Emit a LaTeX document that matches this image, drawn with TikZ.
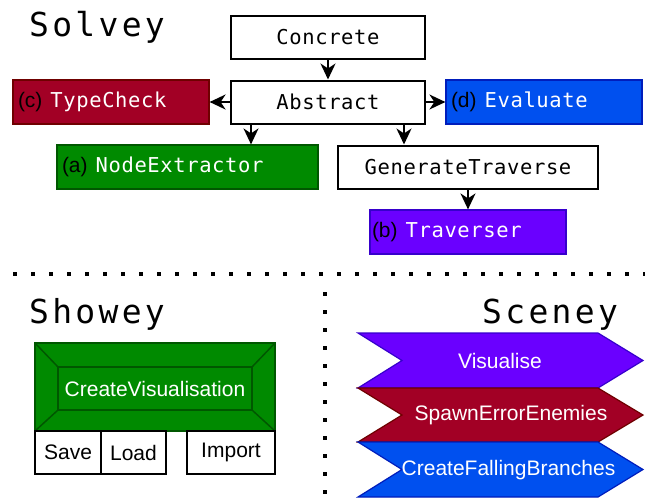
\documentclass[tikz,border=0pt]{standalone}
\usepackage{fontspec}
\setmainfont{Liberation Sans}
\newfontfamily\monof[LetterSpace=3]{DejaVu Sans Mono}
\newfontfamily\monot[LetterSpace=10]{DejaVu Sans Mono}
\usetikzlibrary{arrows.meta,calc}
\definecolor{cred}{HTML}{A20025}
\definecolor{credd}{HTML}{6F0000}
\definecolor{cblue}{HTML}{0050EF}
\definecolor{cblued}{HTML}{001DBC}
\definecolor{cgreen}{HTML}{008A00}
\definecolor{cgreend}{HTML}{005700}
\definecolor{cpurp}{HTML}{6A00FF}
\definecolor{cpurpd}{HTML}{3700CC}
\begin{document}
\begin{tikzpicture}[x=1pt,y=-1pt,
  monotext/.style={font=\monof\fontsize{20.5}{24}\selectfont},
  plainbox/.style={monotext,draw=black,line width=2pt,fill=white,minimum height=43pt,inner sep=0pt},
  labbox/.style={line width=1.2pt,fill=#1,minimum height=44pt,inner ysep=0pt,inner xsep=5pt,align=left},
  smallbox/.style={draw=black,line width=2pt,fill=white,minimum height=43pt,inner sep=0pt,font=\fontsize{21}{24}\selectfont},
  titletext/.style={font=\monot\fontsize{33}{40}\selectfont,anchor=base west,inner sep=0pt},
  arr/.style={line width=2pt,-{Stealth[length=16pt,width=15pt,inset=5pt]}},
  dotline/.style={line width=4pt,dash pattern=on 4pt off 14pt},
  scenetext/.style={text=white,font=\fontsize{21}{24}\selectfont,inner sep=0pt}
]
\useasboundingbox (0,0) rectangle (648,499);

\newcommand{\lab}[2]{{\fontsize{21}{24}\selectfont\color{black}#1}\hspace{8pt}{\monof\fontsize{20.5}{24}\selectfont\color{white}#2}}

% titles
\node[titletext] (solvey) at (29,36) {Solvey};
\node[titletext] (showey) at (29,323) {Showey};
\node[titletext] (sceney) at (482,323) {Sceney};

% Solvey
\node[plainbox,minimum width=194pt] (conc) at (328,37.5) {Concrete};
\node[plainbox,minimum width=194pt] (abs) at (328,102) {Abstract};
\node[labbox=cred,draw=credd,text width=186pt] (tc) at (111,102) {\lab{(c)}{TypeCheck}};
\node[labbox=cblue,draw=cblued,text width=186pt] (ev) at (544,102) {\lab{(d)}{Evaluate}};
\node[labbox=cgreen,draw=cgreend,text width=251pt] (ne) at (187.5,167) {\lab{(a)}{NodeExtractor}};
\node[plainbox,minimum width=260pt] (gt) at (468,167) {GenerateTraverse};
\node[labbox=cpurp,draw=cpurpd,inner xsep=2pt,text width=192pt] (tr) at (468,232) {\lab{(b)}{Traverser}};

\draw[arr] (conc) -- (abs);
\draw[arr] (abs.west) -- (tc.east);
\draw[arr] (abs.east) -- (ev.west);
\draw[arr] ([xshift=21pt]abs.south west) -- ([xshift=21pt]abs.south west |- ne.north);
\draw[arr] ([xshift=-22pt]abs.south east) -- ([xshift=-22pt]abs.south east |- gt.north);
\draw[arr] (gt.south) -- (tr.north);

% separators
\coordinate (h1) at (13,274);
\coordinate (h2) at (645,274);
\coordinate (v1) at (325,292);
\coordinate (v2) at (325,499);
\draw[dotline] (h1) -- (h2);
\draw[dotline] (v1) -- (v2);

% Showey
\draw[fill=cgreen,draw=cgreend,line width=1.5pt] (35,343) rectangle (275,431);
\draw[draw=cgreend,line width=1.5pt] (58,367) rectangle (252,410);
\draw[draw=cgreend,line width=1.5pt] (35,343) -- (58,367) (275,343) -- (252,367) (35,431) -- (58,410) (275,431) -- (252,410);
\node[text=white,font=\fontsize{21}{24}\selectfont,inner sep=0pt] (cv) at (155,388.5) {CreateVisualisation};
\node[smallbox,minimum width=66pt] (save) at (68,452.5) {Save};
\node[smallbox,minimum width=65pt] (load) at (133.5,452.5) {Load};
\node[smallbox,minimum width=88pt] (imp) at (231,452.5) {Import};

% Sceney
\draw[fill=cpurp,draw=cpurpd,line width=1.2pt] (358,333) -- (598,333) -- (643,360.5) -- (598,388) -- (358,388) -- (402,360.5) -- cycle;
\draw[fill=cred,draw=credd,line width=1.2pt] (358,388) -- (598,388) -- (643,415) -- (598,442) -- (358,442) -- (402,415) -- cycle;
\draw[fill=cblue,draw=cblued,line width=1.2pt] (358,442) -- (598,442) -- (643,469.5) -- (598,497) -- (358,497) -- (402,469.5) -- cycle;
\node[scenetext] (vis) at (500,361) {Visualise};
\node[scenetext] (spawn) at (511,415.5) {SpawnErrorEnemies};
\node[scenetext] (cfb) at (508.5,470) {CreateFallingBranches};
\end{tikzpicture}
\end{document}
